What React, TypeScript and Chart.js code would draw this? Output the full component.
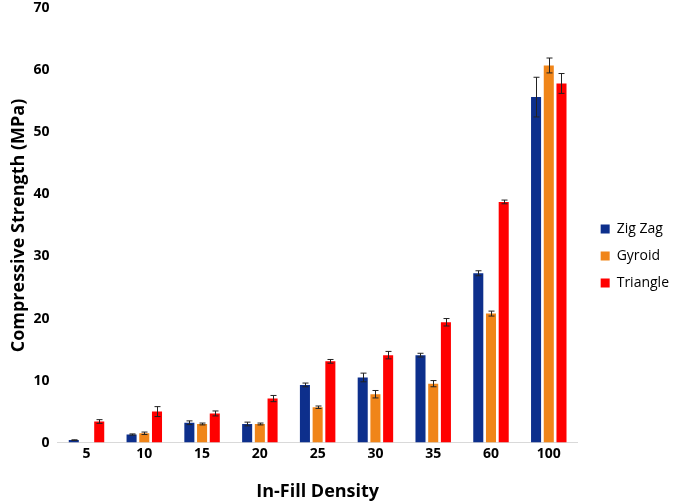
import { useEffect, useRef } from 'react';
import { Chart, registerables } from 'chart.js';

Chart.register(...registerables);

const densities = ['5', '10', '15', '20', '25', '30', '35', '60', '100'];

const zigZag = [0.4, 1.3, 3.2, 3.0, 9.3, 10.5, 14.1, 27.3, 55.7];
const zigZagErr = [0.05, 0.1, 0.3, 0.3, 0.3, 0.7, 0.3, 0.4, 3.2];

const gyroid = [null, 1.5, 3.0, 3.0, 5.7, 7.8, 9.5, 20.8, 60.8];
const gyroidErr = [0, 0.2, 0.15, 0.15, 0.2, 0.6, 0.5, 0.4, 1.2];

const triangle = [3.4, 5.0, 4.7, 7.1, 13.1, 14.1, 19.4, 38.8, 57.9];
const triangleErr = [0.3, 0.8, 0.4, 0.5, 0.3, 0.6, 0.6, 0.3, 1.6];

const errors = [zigZagErr, gyroidErr, triangleErr];

const FONT = '"Open Sans", "DejaVu Sans", sans-serif';

// draws the +/- whiskers on top of each bar
const errorBars = {
  id: 'errorBars',
  afterDatasetsDraw(chart: Chart) {
    const { ctx } = chart;
    const y = chart.scales.y;
    ctx.save();
    ctx.strokeStyle = '#222';
    ctx.lineWidth = 1;
    chart.data.datasets.forEach((ds, di) => {
      const meta = chart.getDatasetMeta(di);
      meta.data.forEach((bar: any, i) => {
        const v = ds.data[i] as number | null;
        const e = errors[di][i];
        if (v == null || !e) return;
        const top = y.getPixelForValue(v + e);
        const bottom = y.getPixelForValue(v - e);
        const x = Math.round(bar.x) + 0.5;
        ctx.beginPath();
        ctx.moveTo(x, top);
        ctx.lineTo(x, bottom);
        ctx.moveTo(x - 3, top);
        ctx.lineTo(x + 3, top);
        ctx.moveTo(x - 3, bottom);
        ctx.lineTo(x + 3, bottom);
        ctx.stroke();
      });
    });
    ctx.restore();
  },
};

export default function App() {
  const canvasRef = useRef<HTMLCanvasElement>(null);

  useEffect(() => {
    if (!canvasRef.current) return;
    const bar = { categoryPercentage: 0.66, barPercentage: 0.79 };
    const chart = new Chart(canvasRef.current, {
      type: 'bar',
      data: {
        labels: densities,
        datasets: [
          { label: 'Zig Zag', data: zigZag, backgroundColor: '#0d2f8c', ...bar },
          { label: 'Gyroid', data: gyroid, backgroundColor: '#f08519', ...bar },
          { label: 'Triangle', data: triangle, backgroundColor: '#ff0000', ...bar },
        ],
      },
      options: {
        responsive: true,
        maintainAspectRatio: false,
        animation: false,
        layout: { padding: { top: 0, right: -6, bottom: 0, left: 8 } },
        plugins: {
          tooltip: { enabled: false },
          legend: {
            position: 'right',
            // empty title only nudges the items down a little
            title: { display: true, text: '', font: { size: 2, lineHeight: 1 }, padding: 3 },
            labels: {
              boxWidth: 9,
              boxHeight: 9,
              padding: 13,
              color: '#000',
              font: { family: FONT, size: 14 },
            },
          },
        },
        scales: {
          x: {
            grid: { display: false, drawTicks: false },
            border: { display: true, color: '#d9d9d9' },
            ticks: { color: '#000', padding: 3, font: { family: FONT, size: 14, weight: 'bold' } },
            title: {
              display: true,
              text: 'In-Fill Density',
              color: '#000',
              padding: { top: 16, bottom: 1 },
              font: { family: FONT, size: 18, weight: 'bold' },
            },
          },
          y: {
            min: 0,
            max: 70,
            grid: { display: false },
            border: { display: false },
            ticks: { stepSize: 10, color: '#000', padding: 0, font: { family: FONT, size: 14, weight: 'bold' } },
            title: {
              display: true,
              text: 'Compressive Strength (MPa)',
              color: '#000',
              padding: { top: 0, bottom: 4 },
              font: { family: FONT, size: 18, weight: 'bold' },
            },
          },
          // empty right axis, keeps a gap between the bars and the legend
          gap: {
            type: 'linear',
            position: 'right',
            display: true,
            grid: { display: false, drawTicks: true, tickLength: 10 },
            border: { display: false },
            ticks: { display: false },
          },
        },
      },
      plugins: [errorBars],
    });
    return () => chart.destroy();
  }, []);

  return (
    <div style={{ position: 'fixed', left: 0, top: 0, width: 673, height: 504, background: '#fff' }}>
      <canvas ref={canvasRef} />
    </div>
  );
}
